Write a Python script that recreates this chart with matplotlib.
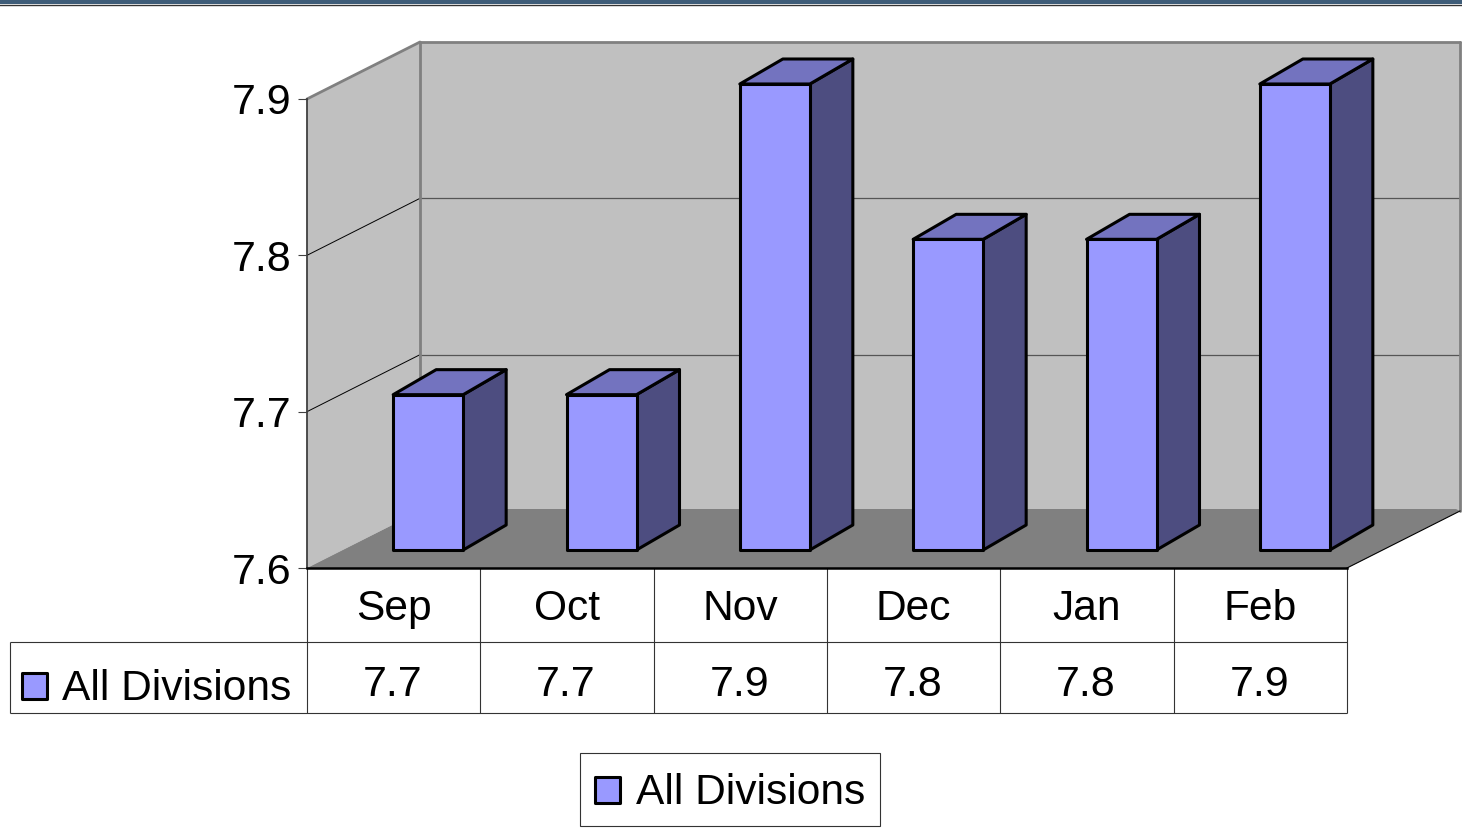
import matplotlib
matplotlib.use("Agg")
import matplotlib.pyplot as plt
from matplotlib.patches import Polygon, Rectangle
from matplotlib.transforms import IdentityTransform, Affine2D

plt.rcParams['font.family'] = ['Liberation Sans', 'DejaVu Sans']

categories = ['Sep', 'Oct', 'Nov', 'Dec', 'Jan', 'Feb']
values = [7.7, 7.7, 7.9, 7.8, 7.8, 7.9]
value_labels = ['7.7', '7.7', '7.9', '7.8', '7.8', '7.9']
y_ticks = [7.6, 7.7, 7.8, 7.9]
series_name = 'All Divisions'

W, H = 1462, 832
BASE = 7.6
fig = plt.figure(figsize=(W / 100, H / 100), dpi=100, facecolor='white')

# pixel-space overlay for layout furniture (y runs downward)
ov = fig.add_axes([0, 0, 1, 1], zorder=0)
ov.set_xlim(0, W)
ov.set_ylim(H, 0)
ov.axis('off')

# data axes
L, R, T, B = 307, 1347, 99, 568
ax = fig.add_axes([L / W, (H - B) / H, (R - L) / W, (B - T) / H], zorder=1)
ax.patch.set_alpha(0)
ax.set_xlim(0, len(categories))
ax.set_ylim(BASE, 7.9)
for s in ('top', 'right'):
    ax.spines[s].set_visible(False)
ax.spines['left'].set_color('#404040')
ax.spines['left'].set_linewidth(1.3)
ax.spines['bottom'].set_color('#000000')
ax.spines['bottom'].set_linewidth(1.8)
ax.spines['left'].set_zorder(1)
ax.set_yticks(y_ticks)
ax.set_yticklabels([f'{v:.1f}' for v in y_ticks], fontsize=31)
ax.tick_params(axis='y', length=6.5, width=0.8, color='#404040', pad=4.5)
for lab in ax.get_yticklabels():
    lab.set_y(lab.get_position()[1])
ax.set_xticks([i + 0.5 for i in range(len(categories))])
ax.set_xticklabels(categories, fontsize=30.6)
ax.tick_params(axis='x', length=0, pad=15)
for lab in ax.get_xticklabels():
    lab.set_x(lab.get_position()[0] - 0.012)

DEPTH_X, DEPTH_Y = 113, 57        # wall depth in px
FLOOR_BACK_Y = 59                 # floor meets the back wall slightly higher
BAR_OX, BAR_OY = 34.5, 18         # bar front offset from wall front
BAR_DX, BAR_DY = 43, 25           # bar depth
BAR_W = 70 / ((R - L) / len(categories))
BAR_SCALE = 466 / 469             # bars stand a little shorter in the 3D box


def proj(x, v, ox=0, oy=0):
    px, py = ax.transData.transform((x, v))
    return (px + ox, py + oy)


def bar_top(v):
    return BASE + (v - BASE) * BAR_SCALE


def poly(points, **kw):
    p = Polygon(points, closed=True, transform=IdentityTransform(), clip_on=False, **kw)
    ax.add_patch(p)
    return p


def line(p0, p1, **kw):
    ax.plot([p0[0], p1[0]], [p0[1], p1[1]], transform=IdentityTransform(), clip_on=False, **kw)


n = len(categories)
top = y_ticks[-1]
# walls and floor
poly([proj(0, BASE), proj(0, BASE, DEPTH_X, DEPTH_Y), proj(n, BASE, DEPTH_X, DEPTH_Y),
      proj(n, top, DEPTH_X, DEPTH_Y), proj(0, top, DEPTH_X, DEPTH_Y), proj(0, top)],
     facecolor='#C0C0C0', edgecolor='none', zorder=0.5)
poly([proj(0, BASE), proj(n, BASE), proj(n, BASE, DEPTH_X, DEPTH_Y),
      proj(n, BASE, DEPTH_X - 4, FLOOR_BACK_Y), proj(0, BASE, DEPTH_X + 4, FLOOR_BACK_Y)],
     facecolor='#808080', edgecolor='none', zorder=0.6)
# gridlines
for v in y_ticks[1:-1]:
    line(proj(0, v), proj(0, v, DEPTH_X, DEPTH_Y), color='#000000', lw=0.7, zorder=0.7)
    line(proj(0, v, DEPTH_X, DEPTH_Y), proj(n, v, DEPTH_X, DEPTH_Y), color='#555555', lw=0.9, zorder=0.7)
# wall outline
grey = dict(color='#808080', lw=2.0, zorder=0.8, solid_capstyle='round')
line(proj(0, top), proj(0, top, DEPTH_X, DEPTH_Y), **grey)
line(proj(0, top, DEPTH_X, DEPTH_Y), proj(n, top, DEPTH_X, DEPTH_Y), **grey)
line(proj(0, top, DEPTH_X, DEPTH_Y), proj(0, BASE, DEPTH_X, DEPTH_Y + 2), **grey)
line(proj(n, top, DEPTH_X, DEPTH_Y), proj(n, BASE, DEPTH_X, DEPTH_Y), **grey)
line(proj(n, BASE), proj(n, BASE, DEPTH_X, DEPTH_Y), color='#000000', lw=0.8, zorder=0.8)

# bars
edge = dict(edgecolor='#000000', linewidth=2.2, joinstyle='round')
shift = Affine2D().translate(BAR_OX, BAR_OY)
for i, v in enumerate(values):
    x0 = i + 0.5 - BAR_W / 2
    x1 = i + 0.5 + BAR_W / 2
    ox, oy = BAR_OX, BAR_OY
    vt = bar_top(v)
    poly([proj(x1, BASE, ox, oy), proj(x1, BASE, ox + BAR_DX, oy + BAR_DY),
          proj(x1, vt, ox + BAR_DX, oy + BAR_DY), proj(x1, vt, ox, oy)],
         facecolor='#4D4D80', zorder=2, **edge)
    poly([proj(x0, vt, ox, oy), proj(x1, vt, ox, oy),
          proj(x1, vt, ox + BAR_DX, oy + BAR_DY), proj(x0, vt, ox + BAR_DX, oy + BAR_DY)],
         facecolor='#7373BF', zorder=2, **edge)
    ax.bar(i + 0.5, vt - BASE, bottom=BASE, width=BAR_W, color='#9999FF',
           transform=ax.transData + shift, clip_on=False, zorder=3, **edge)

# top banner
ov.add_patch(Rectangle((0, -1), W, 5.4, facecolor='#3E5C78', edgecolor='none', clip_on=False))
ov.plot([0, W], [4.8, 4.8], color='#333333', lw=1.0)

# data table
tc = dict(color='#333333', lw=0.8, solid_capstyle='butt')
row1, row2, row3 = 568, 642, 713
cell_edges = [L + (R - L) * i / n for i in range(n + 1)]
ov.plot([10, R], [row2, row2], **tc)
ov.plot([10, R], [row3, row3], **tc)
ov.plot([10, 10], [row2, row3], **tc)
for xe in cell_edges:
    ov.plot([xe, xe], [row1, row3], **tc)
for i, lab in enumerate(value_labels):
    ov.text((cell_edges[i] + cell_edges[i + 1]) / 2 - 1, 685, lab, fontsize=31,
            ha='center', va='center', color='black')

swatch = dict(facecolor='#9999FF', edgecolor='#000000', linewidth=2.2, joinstyle='round')
ov.add_patch(Rectangle((21.5, 672.5), 25, 26, **swatch))
ov.text(62.5, 689, series_name, fontsize=30.6, ha='left', va='center', color='black')

# legend box
ov.add_patch(Rectangle((580, 753), 300, 73, facecolor='white', edgecolor='#333333', linewidth=0.8))
ov.add_patch(Rectangle((595, 777), 25, 26, **swatch))
ov.text(636, 792.5, series_name, fontsize=30.6, ha='left', va='center', color='black')

fig.savefig('out.png', dpi=100)
